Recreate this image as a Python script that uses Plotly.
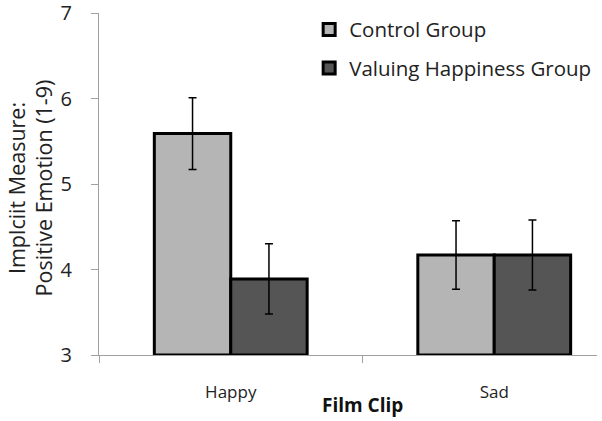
import plotly.graph_objects as go

categories = ["Happy", "Sad"]
control_vals = [5.59, 4.17]
control_err = [0.42, 0.40]
valuing_vals = [3.89, 4.17]
valuing_err = [0.41, 0.41]
series_names = ["Control Group", "Valuing Happiness Group"]
y_ticks = [3, 4, 5, 6, 7]
BASE = 3

FONT = "Open Sans"
TXT = "#222222"

fig = go.Figure()
fig.add_trace(go.Bar(
    x=categories, y=[v - BASE for v in control_vals], base=BASE, name=series_names[0],
    marker=dict(color="#b5b5b5", line=dict(color="black", width=3)),
    error_y=dict(type="data", array=control_err, color="black", thickness=1.5, width=4),
    legendgroup="a",
))
fig.add_trace(go.Bar(
    x=categories, y=[v - BASE for v in valuing_vals], base=BASE, name=series_names[1],
    marker=dict(color="#555555", line=dict(color="black", width=3)),
    error_y=dict(type="data", array=valuing_err, color="black", thickness=1.5, width=4),
    legendgroup="b",
))

fig.update_layout(
    width=602, height=421,
    margin=dict(l=99, r=5, t=13, b=66, autoexpand=False),
    plot_bgcolor="white", paper_bgcolor="white",
    barmode="group", bargap=0.42, bargroupgap=0,
    font=dict(family=FONT, color=TXT),
    showlegend=True,
    legend=dict(x=0.422, y=1.01, xanchor="left", yanchor="top",
                font=dict(size=20.5, family=FONT, color=TXT),
                tracegroupgap=9, bgcolor="rgba(0,0,0,0)"),
    xaxis=dict(
        range=[-0.5, 1.39], automargin=False,
        showline=True, linecolor="#a0a0a0", linewidth=1,
        ticks="outside", tickson="boundaries", ticklen=7, tickcolor="#a0a0a0",
        tickfont=dict(size=17, family=FONT, color=TXT),
        ticklabelstandoff=22, ticklabeloverflow="allow",
    ),
    yaxis=dict(
        range=[3, 7], tickvals=y_ticks, automargin=False,
        showline=True, linecolor="#a0a0a0", linewidth=1,
        ticks="outside", ticklen=7, tickcolor="#a0a0a0",
        showgrid=False, zeroline=False,
        tickfont=dict(size=20, family=FONT, color=TXT),
        ticklabelstandoff=15, ticklabeloverflow="allow",
    ),
    annotations=[
        dict(text="Implciit Measure:<br>Positive Emotion (1-9)", textangle=-90,
             xref="paper", yref="paper", x=-0.1386, y=0.49,
             xanchor="center", yanchor="middle", showarrow=False,
             font=dict(size=21.5, family=FONT, color=TXT)),
        dict(text="<b>Film Clip</b>",
             xref="paper", yref="paper", x=0.53, y=-0.146,
             xanchor="center", yanchor="middle", showarrow=False,
             font=dict(size=19, family=FONT, color="#111111")),
    ],
)

fig.write_html("out.html", config={"displayModeBar": False},
               post_script="document.body.style.margin='0';")
